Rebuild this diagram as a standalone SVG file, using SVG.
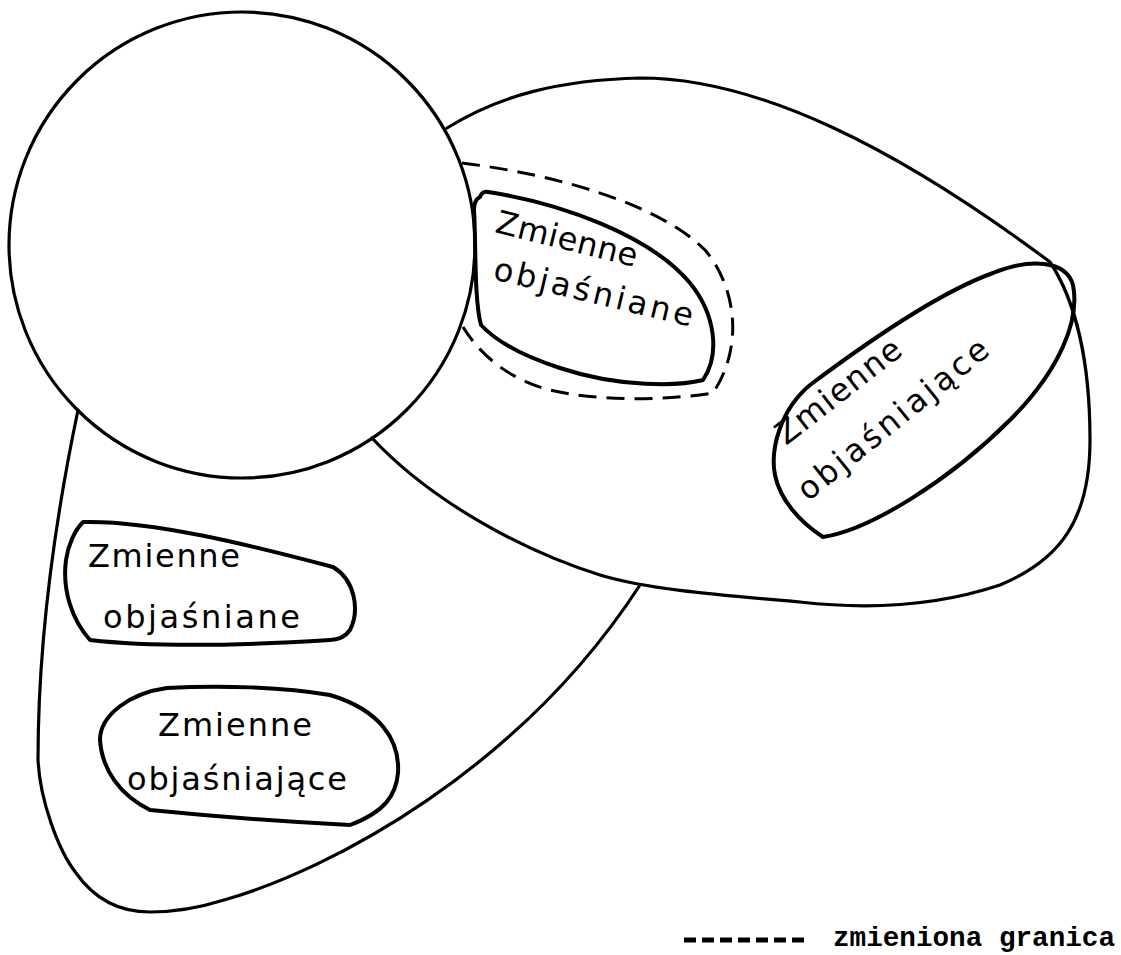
<svg xmlns="http://www.w3.org/2000/svg" width="1121" height="955" viewBox="0 0 1121 955">
<style>
.o{fill:none;stroke:#000;stroke-width:3.2;stroke-linejoin:round;stroke-linecap:round}
.n{fill:none;stroke:#000;stroke-width:4;stroke-linejoin:round}
.d{fill:none;stroke:#000;stroke-width:3;stroke-dasharray:18 10}
.t{font-family:"DejaVu Sans",sans-serif;font-size:32px;fill:#000}
.lg{font-family:"Liberation Mono",monospace;font-weight:bold;font-size:28px;fill:#000}
</style>
<rect width="1121" height="955" fill="#fff"/>
<g id="connectors">
<path class="o" d="M447,128 C500,95 560,80 640,78 C760,78 900,150 1050,262 C1075,300 1090,360 1090,440 C1090,520 1060,560 1000,585 C940,605 870,610 800,602 C720,595 650,590 600,575 C520,550 430,500 372,438"/>
<path class="o" d="M78,410 C55,520 38,640 38,760 C40,800 58,850 76,873 C95,900 120,912 150,912 C180,912 205,906 224,900 C330,870 520,770 640,585"/>
<path class="d" d="M462,163 C560,175 660,205 705,250 C735,285 745,345 713,393 C670,400 600,402 550,390 C510,380 480,355 463,327"/>
</g>
<g id="circle"><circle class="o" cx="242" cy="245" r="233"/></g>
<g id="node-upper">
<path class="n" d="M480,197 Q482,191 488,192 C560,203 650,235 690,283 C716,315 720,355 703,380 C680,386 620,388 560,368 C520,355 495,340 481,325 C474,300 476,240 474,210 Q474,200 480,197 Z"/>
<text class="t" transform="translate(494,232) rotate(14)" textLength="145" lengthAdjust="spacing">Zmienne</text>
<text class="t" transform="translate(492,279) rotate(13.5)" textLength="204" lengthAdjust="spacing">objaśniane</text>
</g>
<g id="node-right">
<path class="n" d="M823,537 C870,530 950,480 1010,420 C1060,370 1080,320 1073,285 C1066,260 1030,258 993,273 C940,292 870,340 810,385 C780,410 770,450 775,475 C780,500 800,522 823,537 Z"/>
<text class="t" transform="translate(786,446) rotate(-38)" textLength="150" lengthAdjust="spacing">Zmienne</text>
<text class="t" transform="translate(808,502) rotate(-39)" textLength="236" lengthAdjust="spacing">objaśniające</text>
</g>
<g id="node-left1">
<path class="n" d="M83,522 C150,520 250,545 333,567 C355,580 360,610 350,630 C345,637 338,640 330,640 C250,645 160,648 90,640 C72,620 62,590 66,560 C68,545 75,530 83,522 Z"/>
<text class="t" x="88" y="567" textLength="152" lengthAdjust="spacing">Zmienne</text>
<text class="t" x="103" y="628" textLength="197" lengthAdjust="spacing">objaśniane</text>
</g>
<g id="node-left2">
<path class="n" d="M167,688 C220,685 283,687 330,695 C380,710 400,740 398,773 C396,795 385,812 350,825 C290,822 200,815 150,810 C120,795 102,770 100,740 C100,715 130,693 167,688 Z"/>
<text class="t" x="158" y="736" textLength="154" lengthAdjust="spacing">Zmienne</text>
<text class="t" x="127" y="790" textLength="220" lengthAdjust="spacing">objaśniające</text>
</g>
<g id="legend">
<line x1="684" y1="940" x2="804" y2="940" stroke="#000" stroke-width="5" stroke-dasharray="12 6"/>
<text class="lg" x="833" y="946" textLength="282" lengthAdjust="spacingAndGlyphs">zmieniona granica</text>
</g>
</svg>
